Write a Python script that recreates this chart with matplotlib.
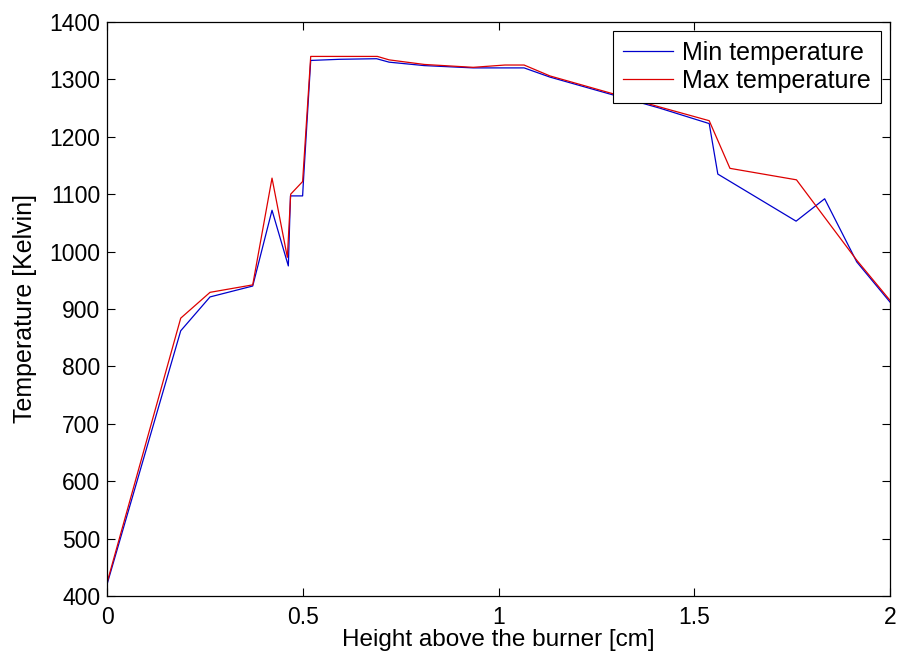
import matplotlib
matplotlib.use("Agg")
import matplotlib.pyplot as plt

plt.rcParams['font.family'] = ['Liberation Sans', 'DejaVu Sans']

# Height above the burner [cm] and measured temperatures [K]
height_min = [0, 0.1875, 0.2624, 0.3715, 0.4208, 0.4625, 0.468, 0.499, 0.501,
              0.5197, 0.594, 0.688, 0.72, 0.81, 0.935, 1.065, 1.131, 1.411,
              1.538, 1.56, 1.76, 1.833, 1.915, 2.0]
temp_min = [422, 862, 921, 940, 1072, 975, 1097, 1097, 1122,
            1333, 1335, 1336, 1330, 1324, 1320, 1320, 1304, 1250,
            1223, 1135, 1053, 1092, 982, 912]

height_max = [0, 0.1875, 0.2624, 0.3715, 0.4208, 0.46, 0.4685, 0.499, 0.5197,
              0.69, 0.72, 0.81, 0.935, 1.016, 1.065, 1.131, 1.411, 1.538,
              1.591, 1.761, 1.915, 2.0]
temp_max = [425, 884, 929, 942, 1128, 990, 1100, 1122, 1340,
            1340, 1334, 1326, 1321, 1325, 1325, 1306, 1252, 1228,
            1145, 1125, 985, 915]

x_ticks = [0, 0.5, 1, 1.5, 2]
x_tick_labels = ['0', '0.5', '1', '1.5', '2']
y_ticks = list(range(400, 1401, 100))

fig = plt.figure(figsize=(8.99, 6.6), dpi=100)
ax = fig.add_axes([0.1194, 0.097, 0.8706, 0.8697])

ax.plot(height_min, temp_min, color='#0000cc', lw=0.9, label='Min temperature')
ax.plot(height_max, temp_max, color='#dd0000', lw=0.9, label='Max temperature')

ax.set_xlim(0, 2)
ax.set_ylim(400, 1400)
ax.set_xticks(x_ticks)
ax.set_xticklabels(x_tick_labels)
ax.set_yticks(y_ticks)
ax.tick_params(direction='in', top=True, right=True, length=6, width=0.8,
               labelsize=16.5)
ax.tick_params(axis='x', pad=7)
ax.tick_params(axis='y', pad=5)
for sp in ax.spines.values():
    sp.set_linewidth(0.9)

ax.set_xlabel('Height above the burner [cm]', fontsize=17.5, labelpad=0)
ax.set_ylabel('Temperature [Kelvin]', fontsize=18, labelpad=9)

leg = ax.legend(loc='upper right', fontsize=18, fancybox=False, framealpha=1,
                edgecolor='black', borderaxespad=0.35, handlelength=2.0,
                handletextpad=0.35, borderpad=0.42, labelspacing=0.15)
leg.get_frame().set_linewidth(0.8)

fig.savefig('out.png', dpi=100)
